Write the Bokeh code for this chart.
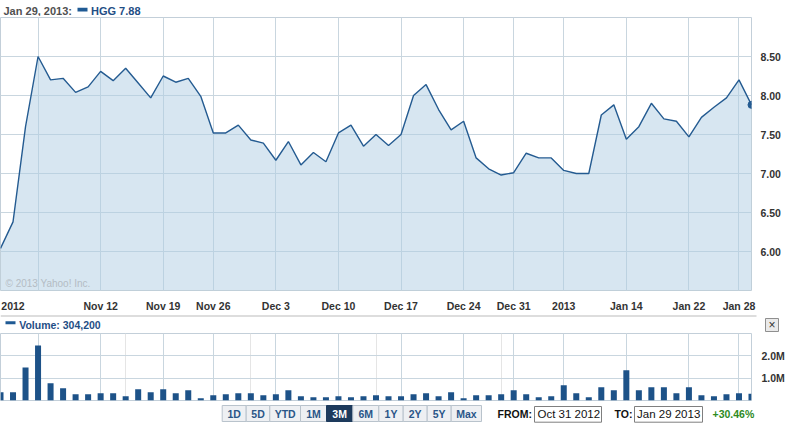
from bokeh.plotting import figure
from bokeh.layouts import column
from bokeh.models import Range1d, FixedTicker, PrintfTickFormatter, Label, BoxAnnotation, Grid
from bokeh.embed import file_html
from bokeh.resources import INLINE

# ---------------- data ----------------
symbol = "HGG"
last_date = "Jan 29, 2013"
from_date = "Oct 31 2012"
to_date = "Jan 29 2013"

close = [6.04, 6.38, 7.60, 8.50, 8.20, 8.22, 8.04, 8.11, 8.31, 8.19,
         8.35, 8.16, 7.97, 8.25, 8.17, 8.22, 7.99, 7.52, 7.52, 7.62,
         7.43, 7.39, 7.17, 7.41, 7.11, 7.27, 7.15, 7.52, 7.62, 7.35,
         7.50, 7.36, 7.50, 8.00, 8.14, 7.82, 7.56, 7.67, 7.20, 7.06,
         6.98, 7.01, 7.26, 7.20, 7.20, 7.04, 7.00, 7.00, 7.75, 7.88,
         7.44, 7.60, 7.90, 7.70, 7.67, 7.47, 7.72, 7.85, 7.97, 8.20, 7.88]

volume = [370000, 370000, 1480000, 2460000, 770000, 550000, 280000, 280000, 330000, 330000,
          190000, 500000, 370000, 500000, 330000, 460000, 100000, 240000, 280000, 330000,
          330000, 240000, 280000, 460000, 190000, 150000, 150000, 190000, 150000, 190000,
          240000, 190000, 190000, 280000, 330000, 190000, 370000, 100000, 240000, 240000,
          280000, 460000, 280000, 150000, 190000, 680000, 330000, 150000, 590000, 460000,
          1350000, 460000, 590000, 590000, 330000, 590000, 240000, 190000, 280000, 330000, 304200]

day = list(range(len(close)))  # trading-day index, Oct 31 2012 = 0

week_grid = [3, 8, 13, 17, 22, 27, 32, 37, 41, 45, 50, 55, 59]
label_ticks = [1, 8, 13, 17, 22, 27, 32, 37, 41, 45, 50, 55, 59]
tick_labels = ["2012", "Nov 12", "Nov 19", "Nov 26", "Dec 3", "Dec 10", "Dec 17",
               "Dec 24", "Dec 31", "2013", "Jan 14", "Jan 22", "Jan 28"]
price_ticks = [6.0, 6.5, 7.0, 7.5, 8.0, 8.5]
vol_ticks = [1000000, 2000000]
vol_tick_labels = ["1.0M", "2.0M"]
range_buttons = ["1D", "5D", "YTD", "1M", "3M", "6M", "1Y", "2Y", "5Y", "Max"]
selected_range = "3M"

# ---------------- style ----------------
FONT = "Liberation Sans"
GRID = "#c9d6df"
OUTLINE = "#c3cfd9"
LINE = "#245b91"
FILL = "#afcde3"
BAR = "#1d5288"
AXIS_TXT = "#333333"
BLUE_TXT = "#1f4e85"
SWATCH = "#1f5a94"

W = 787
RB = 32


def label(fig, x, y, text, color=AXIS_TXT, size="10.5px", style="bold", align="left", xu="data"):
    fig.add_layout(Label(x=x, y=y, x_units=xu, y_units="screen", text=text,
                         text_color=color, text_font_size=size, text_font_style=style,
                         text_align=align, text_baseline="middle", text_font=FONT))


def box(fig, l, r, b, t, fill, line=None, xu="data"):
    fig.add_layout(BoxAnnotation(left=l, right=r, bottom=b, top=t,
                                 left_units=xu, right_units=xu,
                                 bottom_units="screen", top_units="screen",
                                 fill_color=fill, fill_alpha=1.0,
                                 line_color=line if line else None, line_alpha=1.0,
                                 line_width=1))


def strip(height):
    f = figure(width=W, height=height, x_range=Range1d(0, W), y_range=Range1d(0, 1),
               output_backend="svg", toolbar_location=None,
               x_axis_location=None, y_axis_location=None, frame_align=False,
               min_border_left=0, min_border_right=0, min_border_top=0, min_border_bottom=0)
    f.outline_line_color = None
    f.xgrid.visible = False
    f.ygrid.visible = False
    f.background_fill_color = "white"
    f.border_fill_color = "white"
    return f


# ---------------- header strip ----------------
h = strip(16)
label(h, 3, 6, f"{last_date}:", color="#505050", size="11px")
box(h, 77, 87, 5, 8.7, SWATCH)
label(h, 90.5, 6, f"{symbol} {close[-1]:.2f}", color=BLUE_TXT, size="11px")

# ---------------- price chart ----------------
p = figure(width=W, height=298, x_range=Range1d(0, 60), y_range=Range1d(5.5, 9.0),
           output_backend="svg", toolbar_location=None, y_axis_location="right",
           min_border_left=0, min_border_right=RB, min_border_top=1, min_border_bottom=17)
p.outline_line_color = OUTLINE
p.outline_line_width = 1
p.background_fill_color = "white"
p.border_fill_color = "white"

p.xgrid.ticker = FixedTicker(ticks=week_grid)
p.ygrid.ticker = FixedTicker(ticks=price_ticks)
for g in (p.xgrid, p.ygrid):
    g.grid_line_color = GRID
    g.grid_line_width = 1

p.xaxis.ticker = FixedTicker(ticks=label_ticks)
p.xaxis.major_label_overrides = {t: s for t, s in zip(label_ticks, tick_labels)}
p.yaxis.ticker = FixedTicker(ticks=price_ticks)
p.yaxis.formatter = PrintfTickFormatter(format="%.2f")
for ax in (p.xaxis, p.yaxis):
    ax.axis_line_color = None
    ax.major_tick_line_color = None
    ax.minor_tick_line_color = None
    ax.major_label_text_font = FONT
    ax.major_label_text_font_style = "bold"
    ax.major_label_text_font_size = "10.5px"
    ax.major_label_text_color = AXIS_TXT
p.xaxis.major_label_standoff = 3
p.yaxis.major_label_standoff = 3

p.varea(x=day, y1=5.5, y2=close, fill_color=FILL, fill_alpha=0.5)
p.line(x=day, y=close, line_color=LINE, line_width=1.4)
p.scatter(x=day[-1:], y=close[-1:], size=7, fill_color=LINE, line_color=LINE)

label(p, 5, 7, "\u00a9 2013 Yahoo! Inc.", color="#b4bcc4", size="10px", style="normal", xu="screen")

# ---------------- volume header strip ----------------
vh = strip(18)
box(vh, 0, 756, 15.5, 17.5, "#dddddd")
box(vh, 5, 15, 8.3, 11.3, SWATCH)
label(vh, 18.7, 8, f"Volume: {volume[-1]:,}", color=BLUE_TXT)
box(vh, 765, 778, 1, 14, "#eaeaea", "#8f8f8f")
label(vh, 771.5, 7.5, "\u00d7", color="#333333", size="12px", style="normal", align="center")

# ---------------- volume chart ----------------
v = figure(width=W, height=69, x_range=p.x_range, y_range=Range1d(0, 3000000),
           output_backend="svg", toolbar_location=None, x_axis_location=None,
           y_axis_location="right",
           min_border_left=0, min_border_right=RB, min_border_top=1, min_border_bottom=1)
v.outline_line_color = OUTLINE
v.background_fill_color = "white"
v.border_fill_color = "white"
v.add_layout(Grid(dimension=0, ticker=FixedTicker(ticks=week_grid), grid_line_color=GRID))
v.ygrid.ticker = FixedTicker(ticks=vol_ticks)
v.ygrid.grid_line_color = GRID
v.yaxis.ticker = FixedTicker(ticks=vol_ticks)
v.yaxis.major_label_overrides = {t: s for t, s in zip(vol_ticks, vol_tick_labels)}
v.yaxis.axis_line_color = None
v.yaxis.major_tick_line_color = None
v.yaxis.minor_tick_line_color = None
v.yaxis.major_label_text_font = FONT
v.yaxis.major_label_text_font_style = "bold"
v.yaxis.major_label_text_font_size = "10.5px"
v.yaxis.major_label_text_color = AXIS_TXT
v.yaxis.major_label_standoff = 4

v.vbar(x=day, top=volume, width=0.48, fill_color=BAR, line_color=None)

# ---------------- controls strip ----------------
c = strip(24)
edges = [221.7, 245.7, 269.3, 300.0, 326.0, 352.3, 378.3, 402.7, 426.7, 450.7, 481.0]
for i, name in enumerate(range_buttons):
    sel = name == selected_range
    box(c, edges[i], edges[i + 1], 4, 20, "#1d3a5c" if sel else "#eef0f3",
        "#1d3a5c" if sel else "#b9c3cc")
    label(c, (edges[i] + edges[i + 1]) / 2, 12, name,
          color="white" if sel else "#2a5688", align="center")

label(c, 497, 11.5, "FROM:", color="#111111")
box(c, 534, 601, 3.3, 19, "white", "#7f7f7f")
label(c, 537, 11.5, from_date, color="#111111", size="11.5px", style="normal")
label(c, 614, 11.5, "TO:", color="#111111")
box(c, 634, 702, 3.3, 19, "white", "#7f7f7f")
label(c, 636.5, 11.5, to_date, color="#111111", size="11.5px", style="normal")
change = (close[-1] / close[0] - 1) * 100
label(c, 712, 11.5, f"{change:+.2f}%", color="#2e8b1e")

layout = column(h, p, vh, v, c, spacing=0)
open("out.html", "w").write(file_html(layout, INLINE))
